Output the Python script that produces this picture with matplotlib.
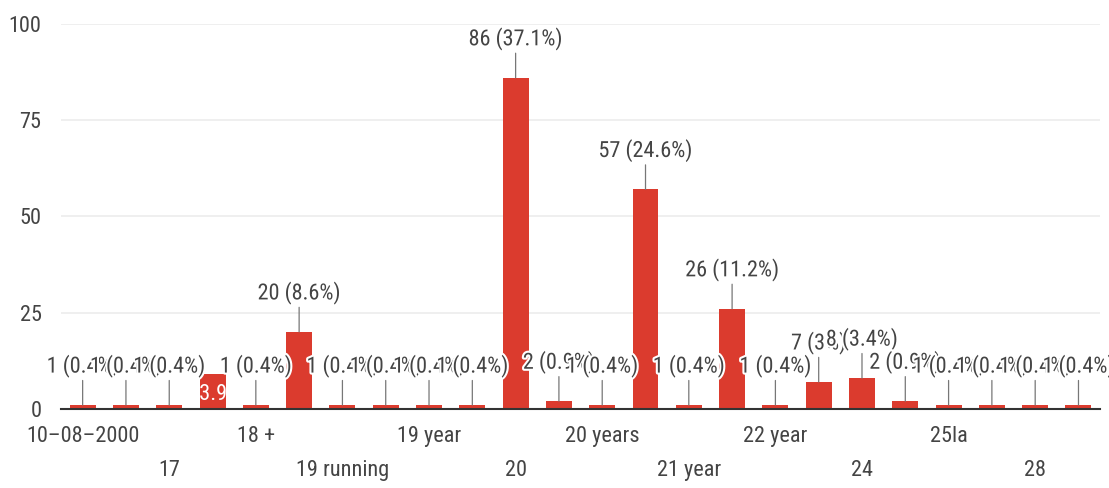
import matplotlib

matplotlib.use("Agg")
import matplotlib.pyplot as plt
import matplotlib.patheffects as pe


CATEGORIES = [
    "10–08–2000", "16", "17", "18", "18 +", "19", "19 running", "19 years",
    "19 year", "19 yrs", "20", "20 year", "20 years", "21", "21 year", "22",
    "22 year", "23", "24", "25", "25la", "26", "28", "30",
]

COUNTS = [
    1, 1, 1, 9, 1, 20, 1, 1, 1, 1, 86, 2,
    1, 57, 1, 26, 1, 7, 8, 2, 1, 1, 1, 1,
]

Y_TICKS = [0, 25, 50, 75, 100]

BAR_COLOR = "#db3b2e"
TEXT_COLOR = "#444444"
FONT = ["Roboto Condensed", "Liberation Sans Narrow", "Roboto", "DejaVu Sans"]
FS = 16


def pct(v, total):
    s = f"{v / total * 100:.1f}"
    if s.endswith(".0"):
        s = s[:-2]
    return f"{v} ({s}%)"


def main():
    plt.rcParams["font.family"] = FONT

    fig = plt.figure(figsize=(11.09, 4.88), dpi=100)
    ax = fig.add_axes([0.055, 0.162, 0.937, 0.789])

    total = sum(COUNTS)
    x = list(range(len(COUNTS)))

    bars = ax.bar(x, COUNTS, width=0.6, color=BAR_COLOR, zorder=2)

    halo = [pe.withStroke(linewidth=3, foreground="white")]

    for i, (xi, v) in enumerate(zip(x, COUNTS)):
        label = pct(v, total)
        if i == 3:
            # this one ended up hidden inside its bar in the original
            t = ax.text(
                xi, v * 0.45, label,
                ha="center", va="center",
                fontsize=FS, color="white", zorder=3,
            )
            t.set_clip_path(bars[i])
            continue
        ax.annotate(
            label,
            xy=(xi, v),
            xytext=(0, 28),
            textcoords="offset points",
            ha="center",
            va="center",
            fontsize=FS,
            color=TEXT_COLOR,
            path_effects=halo,
            zorder=4,
            arrowprops=dict(
                arrowstyle="-",
                color="#777777",
                lw=0.9,
                shrinkA=0,
                shrinkB=0,
            ),
        )

    tick_labels = []
    for i, cat in enumerate(CATEGORIES):
        if i % 4 == 0:
            tick_labels.append(cat)
        elif i % 4 == 2:
            tick_labels.append("\n" + cat)
        else:
            tick_labels.append("")

    ax.set_xticks(x)
    ax.set_xticklabels(tick_labels, fontsize=FS, color=TEXT_COLOR, linespacing=1.85)
    ax.tick_params(axis="x", length=0, pad=12)

    ax.set_yticks(Y_TICKS)
    ax.set_yticklabels([str(t) for t in Y_TICKS], fontsize=FS, color=TEXT_COLOR)
    ax.tick_params(axis="y", length=0, pad=14)

    ax.set_xlim(-0.5, len(COUNTS) - 0.5)
    ax.set_ylim(0, 100)

    ax.grid(axis="y", color="#ececec", linewidth=1.2, zorder=0)
    ax.set_axisbelow(True)

    for side in ["top", "right", "left"]:
        ax.spines[side].set_visible(False)
    ax.spines["bottom"].set_color("#333333")
    ax.spines["bottom"].set_linewidth(1.5)
    ax.spines["bottom"].set_zorder(3)

    fig.savefig("out.png", dpi=100, facecolor="white")
    plt.close(fig)


if __name__ == "__main__":
    main()
